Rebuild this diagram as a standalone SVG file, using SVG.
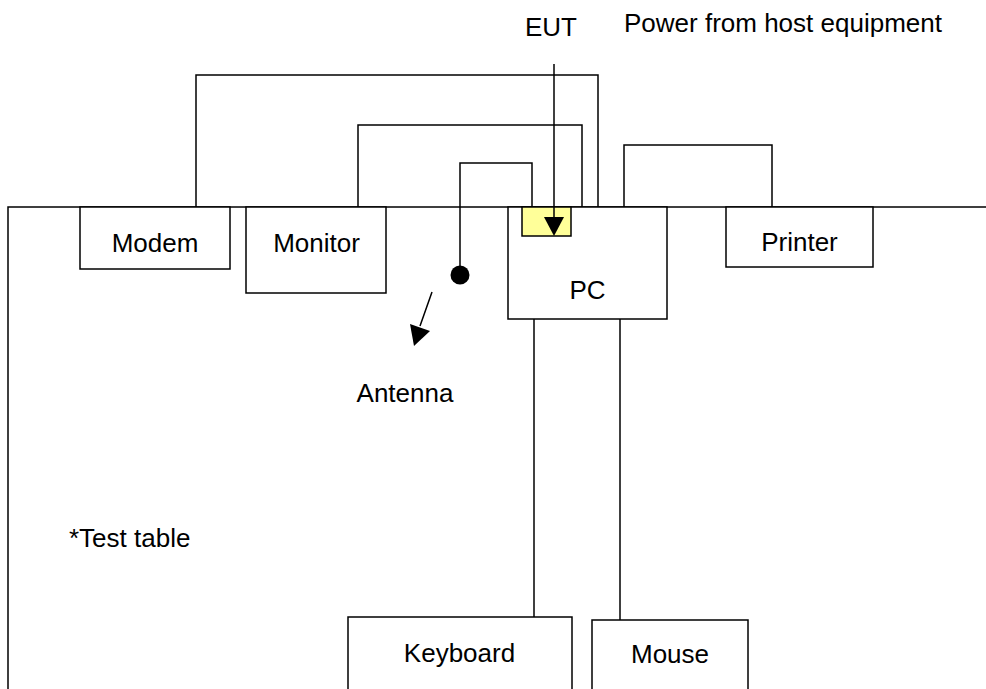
<svg xmlns="http://www.w3.org/2000/svg" width="986" height="689" viewBox="0 0 986 689">
<defs>
<style>
.b{fill:#fff;stroke:#000;stroke-width:1.5}
.l{fill:none;stroke:#000;stroke-width:1.5}
.t{font-family:"Liberation Sans",Arial,sans-serif;font-size:26px;fill:#000}
.m{text-anchor:middle}
</style>
</defs>
<rect width="986" height="689" fill="#fff"/>
<g id="table">
<path class="l" d="M8,689 V207 H986"/>
<text class="t" x="69" y="547">*Test table</text>
</g>
<g id="connectors">
<path class="l" d="M196,207 V75 H598 V207"/>
<path class="l" d="M358,211 V125 H582 V211"/>
<path class="l" d="M460,275 V163 H532 V207"/>
<path class="l" d="M624,207 V145 H772 V207"/>
<path class="l" d="M534,319 V617"/>
<path class="l" d="M620,319 V620"/>
<circle cx="460" cy="275" r="9.5" fill="#000"/>
<path class="l" d="M432,292 L420,326"/>
<polygon points="414,346 410,324 430,331" fill="#000"/>
</g>
<g id="modem">
<rect class="b" x="80" y="207" width="150" height="62"/>
<text class="t m" x="155" y="252">Modem</text>
</g>
<g id="monitor">
<rect class="b" x="246" y="207" width="140" height="86"/>
<text class="t m" x="316.5" y="252">Monitor</text>
</g>
<g id="pc">
<rect class="b" x="508" y="207" width="159" height="112"/>
<text class="t m" x="587.5" y="299">PC</text>
</g>
<g id="eut">
<rect x="522" y="207" width="49" height="29" fill="#ffff99" stroke="#000" stroke-width="1.5"/>
<path class="l" d="M554,64 V218"/>
<polygon points="544,217 564,217 554,236" fill="#000"/>
<text class="t m" x="551" y="36">EUT</text>
</g>
<g id="power">
<text class="t" x="624" y="32">Power from host equipment</text>
</g>
<g id="printer">
<rect class="b" x="726" y="207" width="147" height="60"/>
<text class="t m" x="799.5" y="251">Printer</text>
</g>
<g id="antenna">
<text class="t m" x="405" y="402">Antenna</text>
</g>
<g id="keyboard">
<rect class="b" x="348" y="617" width="224" height="80"/>
<text class="t m" x="459.5" y="662">Keyboard</text>
</g>
<g id="mouse">
<rect class="b" x="592" y="620" width="156" height="80"/>
<text class="t m" x="670" y="663">Mouse</text>
</g>
</svg>
